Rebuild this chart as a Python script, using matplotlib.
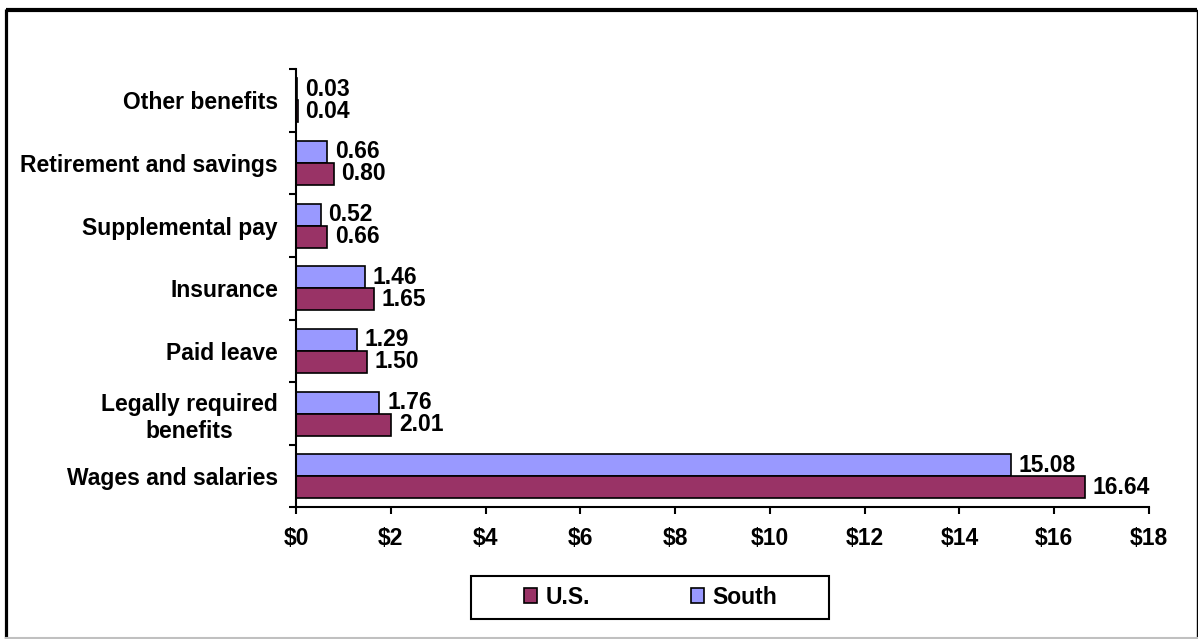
import numpy as np
import matplotlib
matplotlib.use("Agg")
import matplotlib.pyplot as plt
from matplotlib.lines import Line2D
from matplotlib.patches import Rectangle
from matplotlib.ticker import FixedLocator, FuncFormatter

plt.rcParams['font.family'] = ['Liberation Sans', 'DejaVu Sans']
plt.rcParams['font.weight'] = 'bold'

categorias = ["Other benefits", "Retirement and savings", "Supplemental pay",
              "Insurance", "Paid leave", "Legally required\nbenefits",
              "Wages and salaries"]
valores_us = [0.04, 0.80, 0.66, 1.65, 1.50, 2.01, 16.64]
valores_sur = [0.03, 0.66, 0.52, 1.46, 1.29, 1.76, 15.08]
ticks_x = [0, 2, 4, 6, 8, 10, 12, 14, 16, 18]

color_us = "#993366"
color_sur = "#9999FF"
fs = 16.5

W, H = 1198, 639
fig = plt.figure(figsize=(W / 100, H / 100), dpi=100)
ax = fig.add_axes([0.2471, 0.2058, 0.712, 0.6862])

y = np.arange(len(categorias))
alto = 0.351
b_sur = ax.barh(y - alto / 2, valores_sur, height=alto, color=color_sur,
                edgecolor="black", linewidth=1.2, label="South", zorder=2)
b_us = ax.barh(y + alto / 2, valores_us, height=alto, color=color_us,
               edgecolor="black", linewidth=1.2, label="U.S.", zorder=2)

for barras, vals in ((b_sur, valores_sur), (b_us, valores_us)):
    for barra, v in zip(barras, vals):
        ax.annotate(f"{v:.2f}", (barra.get_width(), barra.get_y() + barra.get_height() / 2),
                    xytext=(5.5, 0), textcoords="offset points", va="center", ha="left",
                    fontsize=fs, fontweight="bold")

ax.set_xlim(0, 18)
ax.set_ylim(len(categorias) - 0.5, -0.5)
ax.set_xticks(ticks_x)
ax.xaxis.set_major_formatter(FuncFormatter(lambda v, p: f"${v:.0f}"))
ax.set_yticks(y)
ax.set_yticklabels(categorias, multialignment="center")
ax.yaxis.set_minor_locator(FixedLocator(np.arange(len(categorias) + 1) - 0.5))

for lab in ax.get_xticklabels() + ax.get_yticklabels():
    lab.set_fontsize(fs)
    lab.set_fontweight("bold")

ax.tick_params(axis="y", which="major", length=0, pad=13)
ax.tick_params(axis="y", which="minor", length=5, width=1.5, direction="out")
ax.tick_params(axis="x", which="major", length=5, width=1.5, direction="out", pad=9)

for lado in ("top", "right"):
    ax.spines[lado].set_visible(False)
for lado in ("left", "bottom"):
    ax.spines[lado].set_linewidth(1.5)
    ax.spines[lado].set_color("black")
    ax.spines[lado].set_zorder(3)

# leyenda sin marco; el recuadro se dibuja aparte para tener el relleno horizontal del original
leg = ax.legend(handles=[b_us, b_sur], labels=["U.S.", "South"], ncol=2,
                loc="center left", bbox_to_anchor=(524 / W, 1 - 597 / H),
                bbox_transform=fig.transFigure, frameon=False,
                handlelength=0.58, handleheight=0.58, handletextpad=0.35,
                columnspacing=4.4, borderpad=0, borderaxespad=0,
                prop={"weight": "bold", "size": fs})
fig.add_artist(Rectangle((471 / W, 1 - 619 / H), (829 - 471) / W, (619 - 576) / H,
                         transform=fig.transFigure, fill=False, edgecolor="black",
                         linewidth=1.5))

# marco exterior
def px(x0, y0, x1, y1, **kw):
    fig.add_artist(Line2D([x0 / W, x1 / W], [1 - y0 / H, 1 - y1 / H],
                          transform=fig.transFigure, **kw))

px(5.5, 10, 1197, 10, color="black", linewidth=3, solid_capstyle="butt")
px(5.5, 8.5, 5.5, 639, color="black", linewidth=2.3, solid_capstyle="butt")
px(1196.5, 10, 1196.5, 638, color="black", linewidth=1.0)
px(5.5, 638, 1197, 638, color="#c0c0c0", linewidth=1.5)

fig.savefig("out.png", dpi=100)
